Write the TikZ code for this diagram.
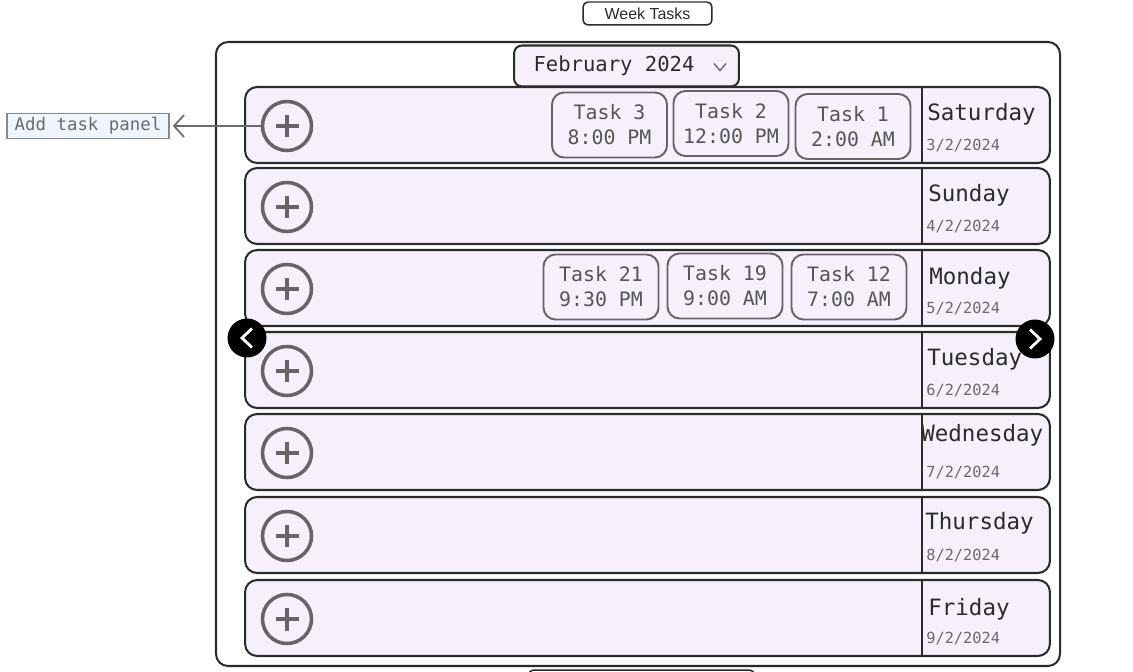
\documentclass[tikz,border=0pt]{standalone}
\usepackage{fontspec}
\setmainfont{Liberation Sans}
\newfontfamily\monofont{DejaVu Sans Mono}
\usepackage{xcolor}
\usetikzlibrary{positioning}
\usetikzlibrary{arrows.meta}
\definecolor{rowfill}{HTML}{F6EFFC}
\definecolor{rowline}{HTML}{2B2B2B}
\definecolor{taskline}{HTML}{676367}
\definecolor{tasktext}{HTML}{555555}
\definecolor{datetext}{HTML}{6A6A6A}
\definecolor{panelfill}{HTML}{EEF5FC}
\definecolor{panelline}{HTML}{888888}
\tikzset{>={Straight Barb[length=2mm,width=4.4mm]}}

\begin{document}
\begin{tikzpicture}[x=0.02cm,y=-0.02cm,
  frame/.style={draw=rowline,line width=1.15pt,rounded corners=0.24cm},
  title/.style={draw=rowline,line width=0.85pt,rounded corners=0.1cm,minimum width=2.58cm,minimum height=0.46cm,inner sep=0pt,font=\fontsize{9.1}{11}\selectfont,text=rowline},
  month/.style={draw=rowline,fill=rowfill,line width=1.15pt,rounded corners=0.16cm,minimum width=4.5cm,minimum height=0.82cm,inner sep=0pt,font=\monofont\fontsize{11.7}{14}\selectfont,text=rowline},
  chev/.style={draw=datetext,line width=0.8pt},
  day/.style={draw=rowline,fill=rowfill,line width=1.15pt,rounded corners=0.24cm,minimum width=16.1cm,minimum height=1.52cm,inner sep=0pt},
  divider/.style={draw=rowline,line width=1pt},
  plus/.style={circle,draw=taskline,line width=2pt,minimum size=0.98cm,inner sep=0pt},
  plusarm/.style={draw=taskline,line width=2.3pt},
  dayname/.style={anchor=west,inner sep=0pt,font=\monofont\fontsize{12.8}{15}\selectfont,text=rowline},
  date/.style={anchor=west,inner sep=0pt,font=\monofont\fontsize{8.7}{10}\selectfont,text=datetext},
  task/.style={draw=taskline,line width=1.1pt,rounded corners=0.24cm,minimum width=2.3cm,minimum height=1.3cm,inner sep=0pt,align=center,font=\monofont\fontsize{11.3}{14.2}\selectfont,text=tasktext},
  panel/.style={draw=panelline,fill=panelfill,line width=1pt,minimum width=3.24cm,minimum height=0.5cm,inner sep=0pt,font=\monofont\fontsize{9.9}{12}\selectfont,text=datetext},
  pointer/.style={draw=datetext,line width=1pt,shorten >=0.06cm},
  nav/.style={circle,fill=black,minimum size=0.78cm,inner sep=0pt},
  navchev/.style={draw=white,line width=1.6pt}]
\useasboundingbox (0,0) rectangle (1133,672);
\draw[frame] (216,42) rectangle (1060,666);
\node[title] (title) at (647.5,13.5) {Week Tasks};
\node[title,minimum width=4.52cm,minimum height=0.8cm] (sub) at (641.5,690) {};
\node[month] (month) at (626.5,66) {February 2024\kern0.5cm};
\draw[chev] ([xshift=-0.52cm,yshift=0.05cm]month.east) -- ++(6,7) -- ++(6,-7);
\foreach \n/\d/\dt/\y/\xn/\yn in {sat/Saturday/3/125/927/114, sun/Sunday/4/206/928/195, mon/Monday/5/288/929/278, tue/Tuesday/6/370/927/359, wed/Wednesday/7/452/921/435, thu/Thursday/8/535/925/523, fri/Friday/9/618/928/609}{
  \node[day] (\n) at (647.5,\y) {};
  \draw[divider] ([xshift=5.49cm]\n.north) -- ([xshift=5.49cm]\n.south);
  \node[plus] (plus-\n) at (287,\y+1) {};
  \draw[plusarm] ([xshift=-0.23cm]plus-\n.center) -- ([xshift=0.23cm]plus-\n.center);
  \draw[plusarm] ([yshift=-0.23cm]plus-\n.center) -- ([yshift=0.23cm]plus-\n.center);
  \node[dayname] (name-\n) at (\xn,\yn) {\d};
  \node[date] (date-\n) at (926,\y+21) {\dt/2/2024};
}
\foreach \k/\tm/\x/\y in {3/8:00 PM/609.5/125, 2/12:00 PM/731/123.5, 1/2:00 AM/853/126.5, 21/9:30 PM/601/287, 19/9:00 AM/725/286, 12/7:00 AM/849/287}
  \node[task] (task-\k) at (\x,\y) {Task \k\\\tm};
\node[panel] (panel) at (88,126) {Add task panel};
\draw[->,pointer] (plus-sat) -- (panel);
\node[nav] (prev) at (247,338) {};
\node[nav] (next) at (1035,339) {};
\draw[navchev] ([xshift=0.1cm,yshift=0.19cm]prev.center) -- ([xshift=-0.1cm]prev.center) -- ([xshift=0.1cm,yshift=-0.19cm]prev.center);
\draw[navchev] ([xshift=-0.1cm,yshift=0.19cm]next.center) -- ([xshift=0.1cm]next.center) -- ([xshift=-0.1cm,yshift=-0.19cm]next.center);
\end{tikzpicture}
\end{document}
